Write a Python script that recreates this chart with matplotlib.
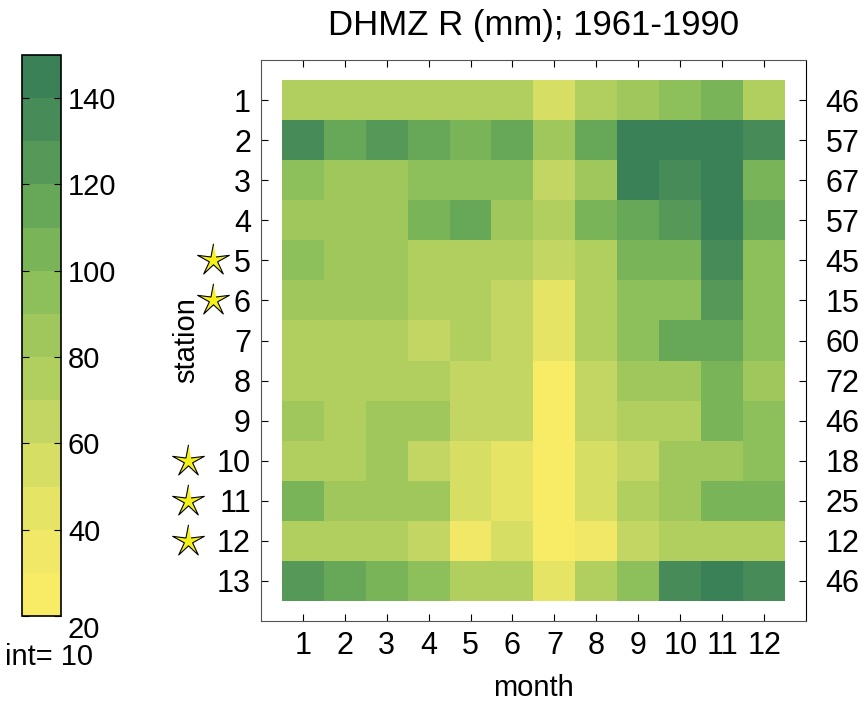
import numpy as np
import matplotlib
matplotlib.use('Agg')
from matplotlib import pyplot as plt
from matplotlib.colors import ListedColormap, BoundaryNorm
from matplotlib.path import Path

plt.rcParams['font.family'] = ['Liberation Sans', 'DejaVu Sans']

months = list(range(1, 13))
stations = list(range(1, 14))
station_years = ['46', '57', '67', '57', '45', '15', '60', '72', '46', '18', '25', '12', '46']
starred = [5, 6, 10, 11, 12]

# monthly precipitation (mm), rows = stations 1..13, cols = months 1..12
precip = np.array([
    [75, 72, 72, 72, 72, 72, 55, 78, 82, 92, 102, 75],
    [135, 115, 128, 118, 108, 118, 88, 115, 145, 145, 145, 132],
    [92, 85, 85, 95, 95, 95, 65, 85, 145, 135, 145, 102],
    [85, 85, 85, 105, 112, 88, 75, 105, 115, 125, 145, 112],
    [92, 85, 85, 75, 75, 72, 65, 75, 105, 105, 135, 92],
    [85, 82, 82, 75, 75, 65, 45, 75, 95, 95, 125, 92],
    [78, 78, 78, 65, 75, 65, 45, 75, 95, 115, 115, 92],
    [75, 75, 75, 75, 65, 65, 25, 65, 85, 85, 105, 85],
    [85, 75, 85, 85, 65, 65, 25, 65, 75, 75, 105, 95],
    [75, 75, 85, 65, 55, 45, 25, 55, 65, 85, 85, 95],
    [105, 88, 88, 85, 55, 45, 25, 55, 75, 85, 105, 105],
    [78, 78, 78, 65, 35, 55, 25, 38, 65, 75, 75, 75],
    [125, 115, 105, 95, 75, 75, 45, 75, 95, 135, 145, 132],
])

levels = np.arange(20, 151, 10)
cmap = ListedColormap([
    '#f8ec66', '#f0e866', '#e6e464', '#d7de64', '#c3d663', '#b0cf5f',
    '#9fc75b', '#8dbf5a', '#7ab459', '#67a758', '#569857', '#478b58', '#3b8158',
])
norm = BoundaryNorm(levels, cmap.N)

fig = plt.figure(figsize=(8.66, 7.02), dpi=100)
ax = fig.add_axes([0.301, 0.1154, 0.63, 0.7991])

mesh = ax.pcolormesh(np.arange(0.5, 13), np.arange(0.5, 14), precip, cmap=cmap, norm=norm)
ax.set_xlim(0, 13)
ax.set_ylim(14, 0)
ax.set_xticks(months)
ax.set_yticks(stations)
for sp in ax.spines.values():
    sp.set_color('#555555')
ax.spines['right'].set_color('black')
ax.set_title('DHMZ R (mm); 1961-1990', fontsize=25, pad=18)
ax.set_xlabel('month', fontsize=21)
ax.xaxis.set_label_coords(0.5, -0.095)
ax.set_ylabel('station', fontsize=21)
ax.yaxis.set_label_coords(-0.11, 0.5)

ax2 = ax.twinx()
ax2.set_ylim(14, 0)
ax2.set_yticks(stations)
ax2.set_yticklabels(station_years)
ax2.tick_params(direction='in', length=5, labelsize=22, pad=14)
for sp in ax2.spines.values():
    sp.set_visible(False)

# tick styling after twinx so nothing resets it
ax.tick_params(direction='in', top=True, length=5, labelsize=22)
ax.tick_params(axis='x', pad=7)
ax.tick_params(axis='y', pad=7)

# thin five-point star
ang = np.pi / 2 + np.arange(10) * np.pi / 5
rad = np.where(np.arange(10) % 2 == 0, 1.0, 0.26)
star = Path(np.column_stack([rad * np.cos(ang), rad * np.sin(ang)]))
for s in starred:
    xs = -1.14 if s < 10 else -1.74
    ax.plot(xs, s, marker=star, markersize=24, markerfacecolor='#f5ef1a',
            markeredgecolor='black', markeredgewidth=0.8, clip_on=False)

cax = fig.add_axes([0.0254, 0.1225, 0.045, 0.7991])
cbar = fig.colorbar(mesh, cax=cax, ticks=[20, 40, 60, 80, 100, 120, 140])
cbar.minorticks_off()
cbar.outline.set_edgecolor('black')
cbar.outline.set_linewidth(1.2)
cax.tick_params(direction='in', left=True, right=True, length=5, labelsize=21, pad=5)
cax.get_yticklabels()[0].set_va('top')
fig.text(0.006, 0.064, 'int= 10', fontsize=21, va='center')

fig.savefig('out.png', dpi=100)
